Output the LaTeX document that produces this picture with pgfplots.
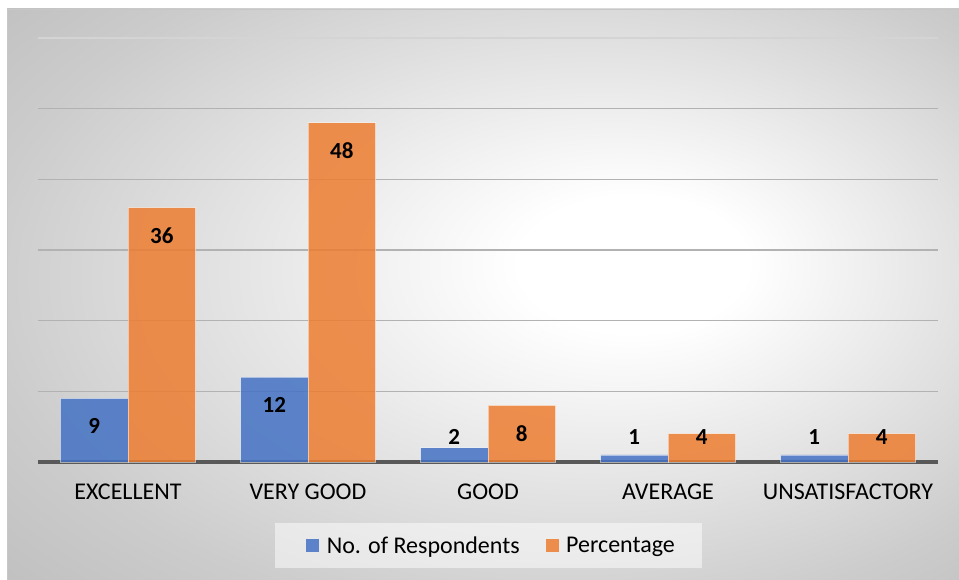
\documentclass[border=0pt]{standalone}
\usepackage{fontspec}
\setmainfont{Carlito}
\usepackage{pgfplots}
\pgfplotsset{compat=1.18}
\definecolor{cblue}{HTML}{4472C4}
\definecolor{corange}{HTML}{ED7D31}
\definecolor{cbase}{HTML}{595959}
\pgfdeclareradialshading{bgshade}{\pgfpoint{9bp}{3bp}}{color(0bp)=(white); color(6bp)=(white); color(30bp)=(black!20); color(50bp)=(black!32)}
\begin{document}
\begin{tikzpicture}
\path[use as bounding box] (0pt,0pt) rectangle (959pt,580pt);
\fill[white] (0pt,0pt) rectangle (959pt,580pt);
\shade[shading=bgshade] (7pt,0pt) rectangle (959pt,571pt);
\draw[black!22, line width=1pt] (7.5pt,0pt) -- (7.5pt,570.5pt) -- (959pt,570.5pt);
\fill[white, opacity=0.5] (275pt,12pt) rectangle (702pt,57pt);
\begin{axis}[
  at={(38pt,118pt)}, anchor=south west,
  scale only axis, width=900pt, height=424pt,
  xmin=-0.5, xmax=4.5, ymin=0, ymax=60,
  ybar=0pt, bar width=0.375,
  xtick={0,1,2,3,4},
  xticklabels={EXCELLENT,VERY GOOD,GOOD,AVERAGE,UNSATISFACTORY},
  ytick={10,20,30,40,50}, yticklabels={},
  extra y ticks={60}, extra y tick labels={},
  extra y tick style={grid style={black!17, line width=1.2pt}},
  separate axis lines,
  axis x line*=bottom, axis y line*=left,
  x axis line style={draw=cbase, line width=3.5pt, -},
  y axis line style={draw=none},
  major tick length=0pt,
  ymajorgrids, grid style={black!30, line width=1.2pt},
  xticklabel style={anchor=base, yshift=-38pt, font=\fontsize{24}{28}\selectfont},
  clip=false,
  nodes near coords={\pgfmathprintnumber[assume math mode=true]{\pgfplotspointmeta}},
  nodes near coords align={center},
  visualization depends on={rawy \as \rawy},
  every node near coord/.append style={font=\bfseries\fontsize{23}{27}\selectfont, anchor=center, text=black, opacity=1, yshift={max(-28,25-7.0667*\rawy)}},
  legend style={at={(0.504,-0.197)}, anchor=center, legend columns=2, draw=none, fill=none, font=\fontsize{24}{28}\selectfont, /tikz/every even column/.append style={column sep=24pt}},
  legend image code/.code={\fill[#1, draw=none] (0pt,-6.5pt) rectangle (13pt,6.5pt); \path (18pt,0pt);},
]
\addplot[fill=cblue, fill opacity=0.85, draw=white, draw opacity=0.5, line width=0.8pt] coordinates {(0,9) (1,12) (2,2) (3,1) (4,1)};
\addplot[fill=corange, fill opacity=0.85, draw=white, draw opacity=0.5, line width=0.8pt] coordinates {(0,36) (1,48) (2,8) (3,4) (4,4)};
\legend{No. of Respondents, Percentage}
\end{axis}
\end{tikzpicture}
\end{document}
